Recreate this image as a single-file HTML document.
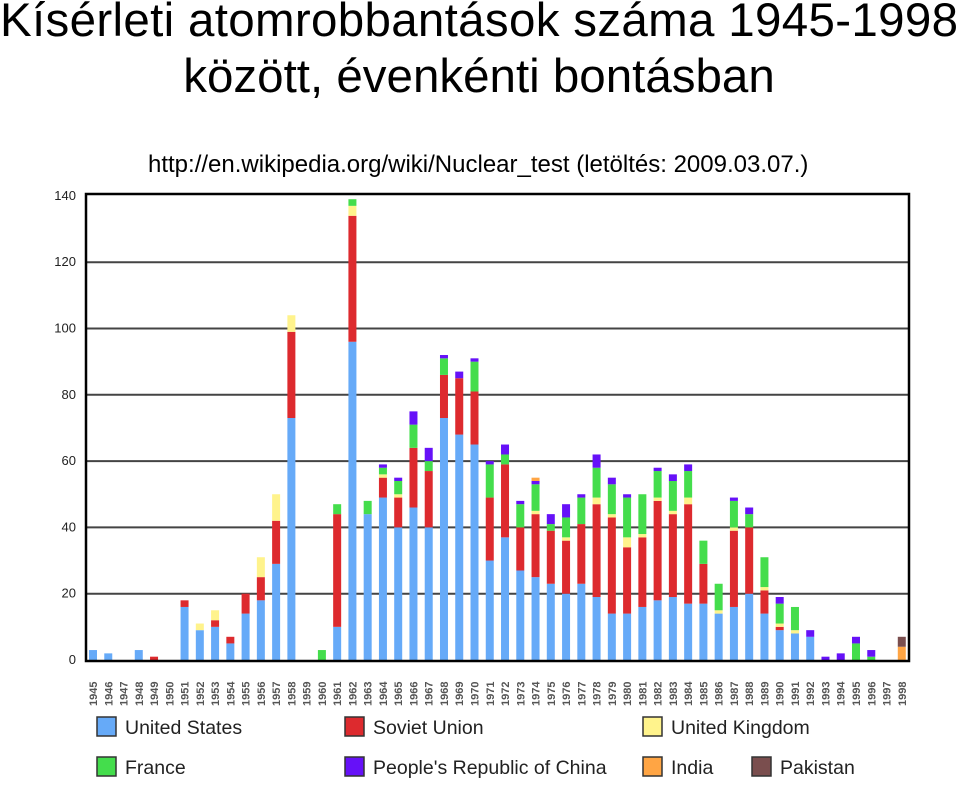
<!DOCTYPE html>
<html><head><meta charset="utf-8"><style>
body{margin:0;background:#fff;width:960px;height:781px;overflow:hidden;font-family:"Liberation Sans",sans-serif}
</style></head><body>
<svg width="960" height="781" xmlns="http://www.w3.org/2000/svg">
<text x="0" y="36" font-size="47.5" font-family="Liberation Sans" textLength="958">Kísérleti atomrobbantások száma 1945-1998</text>
<text x="479" y="92" font-size="47.5" text-anchor="middle" font-family="Liberation Sans">között, évenkénti bontásban</text>
<text x="148" y="172" font-size="24" font-family="Liberation Sans">http://en.wikipedia.org/wiki/Nuclear_test (letöltés: 2009.03.07.)</text>
<g id="grid"></g><g id="bars"></g><g id="xl"></g>
<rect x="86" y="194" width="823" height="467" fill="none" stroke="#000" stroke-width="2.5"/>
<g id="legend"></g>
</svg>
<script>
const years=[];for(let y=1945;y<=1998;y++)years.push(y);
const us=[3,2,0,3,0,0,16,9,10,5,14,18,29,73,0,0,10,96,44,49,40,46,40,73,68,65,30,37,27,25,23,20,23,19,14,14,16,18,19,17,17,14,16,20,14,9,8,7,0,0,0,0,0,0];
const su=[0,0,0,0,1,0,2,0,2,2,6,7,13,26,0,0,34,38,0,6,9,18,17,13,17,16,19,22,13,19,16,16,18,28,29,20,21,30,25,30,12,0,23,20,7,1,0,0,0,0,0,0,0,0];
const uk=[0,0,0,0,0,0,0,2,3,0,0,6,8,5,0,0,0,3,0,1,1,0,0,0,0,0,0,0,0,1,0,1,0,2,1,3,1,1,1,2,0,1,1,0,1,1,1,0,0,0,0,0,0,0];
const fr=[0,0,0,0,0,0,0,0,0,0,0,0,0,0,0,3,3,2,4,2,4,7,3,5,0,9,10,3,7,8,2,6,8,9,9,12,12,8,9,8,7,8,8,4,9,6,7,0,0,0,5,1,0,0];
const cn=[0,0,0,0,0,0,0,0,0,0,0,0,0,0,0,0,0,0,0,1,1,4,4,1,2,1,1,3,1,1,3,4,1,4,2,1,0,1,2,2,0,0,1,2,0,2,0,2,1,2,2,2,0,0];
const inn=[0,0,0,0,0,0,0,0,0,0,0,0,0,0,0,0,0,0,0,0,0,0,0,0,0,0,0,0,0,1,0,0,0,0,0,0,0,0,0,0,0,0,0,0,0,0,0,0,0,0,0,0,0,4];
const pk=[0,0,0,0,0,0,0,0,0,0,0,0,0,0,0,0,0,0,0,0,0,0,0,0,0,0,0,0,0,0,0,0,0,0,0,0,0,0,0,0,0,0,0,0,0,0,0,0,0,0,0,0,0,3];
const yTicks=[0,20,40,60,80,100,120,140];
const seriesNames=["United States","Soviet Union","United Kingdom","France","People's Republic of China","India","Pakistan"];
const colors=["#66aaf8","#dd2a2e","#fff38c","#44dd4c","#6611f8","#ffa544","#7a4e4e"];
const NS="http://www.w3.org/2000/svg";
const yS=v=>660-v*3.315;const xS=i=>93+i*15.26;
function mk(t,a,p){const e=document.createElementNS(NS,t);for(const k in a)e.setAttribute(k,a[k]);p.appendChild(e);return e;}
const grid=document.getElementById('grid');
yTicks.forEach(t=>{
 if(t>0&&t<140){const l=mk('line',{x1:86,x2:909,y1:yS(t),y2:yS(t),stroke:'#444','stroke-width':2},grid);
 
 }
 const tx=mk('text',{x:76,y:yS(t)+4,'font-size':13,'text-anchor':'end',fill:'#222'},grid);tx.textContent=t;
 
 
});
const all=[us,su,uk,fr,cn,inn,pk];
const bars=document.getElementById('bars');
years.forEach((yr,i)=>{let c=0;all.forEach((s,k)=>{const v=s[i];if(!v)return;
 const r=mk('rect',{x:xS(i)-4,y:yS(c+v),width:8,height:yS(c)-yS(c+v),fill:colors[k]},bars);
 
 
 c+=v;});
 const t=mk('text',{transform:`translate(${xS(i)+4},${706}) rotate(-90)`,'font-size':11,'font-weight':'bold',fill:'#555'},document.getElementById('xl'));
 t.textContent=yr;
 
 
});
const lg=document.getElementById('legend');
const pos=[[97,727],[345,727],[643,727],[97,767],[345,767],[643,767],[752,767]];
seriesNames.forEach((n,k)=>{const [x,y]=pos[k];
 const r=mk('rect',{x:x,y:y-10,width:19,height:19,fill:colors[k],stroke:'#333','stroke-width':1.5},lg);
 
 
 const t=mk('text',{x:x+28,y:y+7,'font-size':19.5,fill:'#222'},lg);t.textContent=n;
 
 
});
</script>
</body></html>
